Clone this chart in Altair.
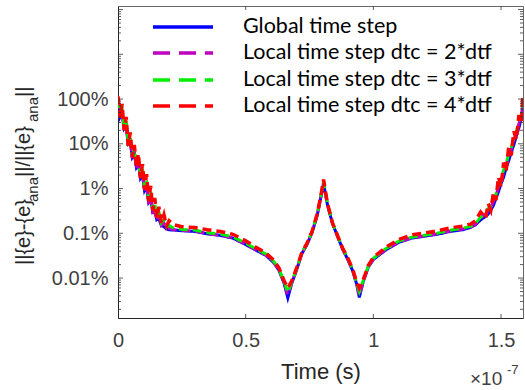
import altair as alt
import pandas as pd

# Time axis in units of 1e-7 s
times = [
    0.000, 0.008, 0.016, 0.024, 0.032, 0.040, 0.048, 0.056, 0.064, 0.072,
    0.080, 0.088, 0.096, 0.104, 0.112, 0.120, 0.128, 0.136, 0.144, 0.152,
    0.160, 0.170, 0.180, 0.190, 0.200,
    0.22, 0.25, 0.30, 0.35, 0.40, 0.45, 0.50, 0.54, 0.58, 0.61,
    0.63, 0.65, 0.665, 0.68, 0.70, 0.72, 0.74, 0.76, 0.78, 0.795,
    0.805, 0.82, 0.84, 0.86, 0.88, 0.90, 0.92, 0.935, 0.945, 0.96,
    0.98, 1.00, 1.05, 1.10, 1.15, 1.20, 1.25, 1.30, 1.35, 1.38, 1.40,
    1.42, 1.44, 1.45, 1.46, 1.47, 1.48, 1.49, 1.50, 1.51, 1.52,
    1.53, 1.54, 1.55, 1.56, 1.57, 1.58, 1.585,
]

# Relative error in percent
err_global = [
    90, 40, 50, 22, 26, 10, 11, 5, 6, 3.0, 3.6, 1.7, 2.0, 0.9, 1.1, 0.5, 0.6, 0.3, 0.32, 0.2,
    0.21, 0.15, 0.14, 0.125, 0.12,
    0.118, 0.114, 0.11, 0.097, 0.09, 0.078, 0.056, 0.042, 0.032, 0.022,
    0.015, 0.0078, 0.0036, 0.0075, 0.0155, 0.035, 0.056, 0.104, 0.25, 0.66,
    1.3, 0.44, 0.165, 0.085, 0.044, 0.026, 0.014, 0.0072, 0.0037, 0.0082,
    0.0175, 0.026, 0.043, 0.063, 0.078, 0.086, 0.095, 0.11, 0.12, 0.135, 0.155,
    0.2, 0.24, 0.27, 0.33, 0.42, 0.6, 0.85, 1.3, 1.8, 2.9, 4.2, 6.5, 9.5, 15, 23, 38, 62,
]
err_dtc2 = [
    95, 42, 55, 20, 30, 9, 13, 4.8, 7, 2.8, 4.2, 1.6, 2.4, 0.85, 1.3, 0.45, 0.75, 0.27, 0.42, 0.19,
    0.27, 0.15, 0.17, 0.13, 0.13,
    0.12, 0.116, 0.112, 0.098, 0.091, 0.079, 0.057, 0.0425, 0.0325, 0.0225,
    0.0155, 0.008, 0.0042, 0.0077, 0.0158, 0.0355, 0.057, 0.106, 0.255, 0.68,
    1.4, 0.45, 0.168, 0.086, 0.0445, 0.0265, 0.0142, 0.0073, 0.0040, 0.0083,
    0.0178, 0.0265, 0.044, 0.064, 0.079, 0.087, 0.097, 0.113, 0.124, 0.138, 0.158,
    0.22, 0.27, 0.32, 0.38, 0.5, 0.7, 1.05, 1.5, 2.2, 3.3, 5.2, 7.5, 12, 17, 28, 42, 75,
]
err_dtc3 = [
    100, 48, 60, 24, 32, 11, 14, 5.5, 7.5, 3.3, 4.6, 1.9, 2.7, 1.0, 1.5, 0.55, 0.85, 0.33, 0.47, 0.22,
    0.3, 0.17, 0.2, 0.14, 0.15,
    0.128, 0.122, 0.118, 0.103, 0.096, 0.083, 0.06, 0.045, 0.034, 0.0235,
    0.0162, 0.0083, 0.0048, 0.008, 0.0163, 0.0365, 0.059, 0.108, 0.262, 0.7,
    1.45, 0.46, 0.17, 0.088, 0.046, 0.0275, 0.0148, 0.0076, 0.005, 0.0087,
    0.0183, 0.0275, 0.046, 0.067, 0.082, 0.09, 0.1, 0.117, 0.13, 0.143, 0.165,
    0.23, 0.28, 0.36, 0.4, 0.58, 0.75, 1.2, 1.6, 2.6, 3.5, 6.0, 8.0, 14, 18, 33, 45, 88,
]
err_dtc4 = [
    115, 38, 78, 20, 40, 9, 18, 5.0, 9.5, 3.0, 6.0, 1.7, 3.5, 0.95, 2.1, 0.52, 1.15, 0.32, 0.62, 0.22,
    0.39, 0.17, 0.26, 0.145, 0.19,
    0.155, 0.14, 0.135, 0.12, 0.11, 0.095, 0.068, 0.049, 0.036, 0.025,
    0.017, 0.0088, 0.006, 0.0085, 0.017, 0.037, 0.06, 0.11, 0.27, 0.72,
    1.6, 0.47, 0.17, 0.088, 0.046, 0.028, 0.015, 0.008, 0.006, 0.009,
    0.019, 0.029, 0.049, 0.073, 0.092, 0.102, 0.113, 0.132, 0.145, 0.16, 0.19,
    0.3, 0.22, 0.46, 0.33, 0.8, 0.55, 1.8, 1.1, 3.8, 2.5, 8.5, 5.5, 19, 12.5, 44, 31, 105,
]

series_labels = [
    "Global time step",
    "Local time step dtc = 2*dtf",
    "Local time step dtc = 3*dtf",
    "Local time step dtc = 4*dtf",
]
series_values = [err_global, err_dtc2, err_dtc3, err_dtc4]
series_colors = ["#0000ff", "#bf00bf", "#00ee00", "#ff0000"]
series_dash = [[1, 0], [9, 5], [9, 5], [9, 5]]
series_width = [3, 3, 3, 3.5]

y_tick_values = [0.01, 0.1, 1, 10, 100]
x_tick_values = [0, 0.5, 1, 1.5]

W, H = 405, 312
X_DOMAIN = [0, 1.586]
Y_DOMAIN = [0.00128, 12000]
xscale = alt.Scale(domain=X_DOMAIN, nice=False, zero=False)
yscale = alt.Scale(type="log", domain=Y_DOMAIN, nice=False)

FONT = "Liberation Sans"
LEG_FONT = "Lato"

x_axis = alt.Axis(values=x_tick_values, format="~g", title="Time (s)",
                  ticks=False, grid=False, domainColor="#262626", labelFlush=False,
                  labelFont=FONT, labelFontSize=20, labelColor="#404040",
                  labelPadding=12, titleFont=FONT, titleFontSize=22,
                  titleFontWeight="normal", titleColor="#262626",
                  titlePadding=11)
y_axis = alt.Axis(values=y_tick_values, labelExpr="datum.value + '%'",
                  title="", ticks=False, grid=False, domainColor="#262626",
                  labelFlush=False,
                  labelFont=FONT, labelFontSize=20, labelColor="#404040",
                  labelPadding=10)

layers = []

# Curves, drawn in order so the red one sits on top
for i, (lab, vals) in enumerate(zip(series_labels, series_values)):
    df = pd.DataFrame({"t": times, "err": vals})
    layers.append(
        alt.Chart(df).mark_line(
            color=series_colors[i], strokeWidth=series_width[i],
            strokeDash=series_dash[i], clip=True,
        ).encode(
            x=alt.X("t:Q", scale=xscale, axis=x_axis),
            y=alt.Y("err:Q", scale=yscale, axis=y_axis),
        )
    )

# Inward tick marks on all four sides
y_major = [10.0 ** k for k in range(-2, 5)]
y_minor = [m * 10.0 ** k for k in range(-3, 5) for m in range(2, 10)
           if Y_DOMAIN[0] < m * 10.0 ** k < Y_DOMAIN[1]]
x_major = [0.5, 1.0, 1.5]

def ytick(vals, x0, x1):
    return alt.Chart(pd.DataFrame({"err": vals})).mark_rule(
        color="#333333", strokeWidth=0.8
    ).encode(y=alt.Y("err:Q", scale=yscale, axis=y_axis),
             x=alt.value(x0), x2=alt.value(x1))

def xtick(vals, y0, y1):
    return alt.Chart(pd.DataFrame({"t": vals})).mark_rule(
        color="#333333", strokeWidth=0.8
    ).encode(x=alt.X("t:Q", scale=xscale, axis=x_axis),
             y=alt.value(y0), y2=alt.value(y1))

layers += [
    ytick(y_major, 0, 5), ytick(y_minor, 0, 3),
    ytick(y_major, W, W - 5), ytick(y_minor, W, W - 3),
    xtick(x_major, H, H - 4), xtick(x_major, 0, 4),
]

# Legend
leg_y = [21, 47, 74, 100]
for i, lab in enumerate(series_labels):
    one = pd.DataFrame({"label": [lab]})
    layers.append(
        alt.Chart(one).mark_rule(
            color=series_colors[i], strokeWidth=3.5,
            strokeDash=[1, 0] if i == 0 else [17, 9],
        ).encode(x=alt.value(35), x2=alt.value(95), y=alt.value(leg_y[i]))
    )
    layers.append(
        alt.Chart(one).mark_text(
            align="left", baseline="middle", font=LEG_FONT, fontSize=21.5,
            color="#000000",
        ).encode(x=alt.value(125), y=alt.value(leg_y[i]), text="label:N")
    )

# Y-axis title with subscripts, rotated
title_parts = [
    ("||{e}-{e}", 20, -88.5, 259),
    ("ana", 15, -80, 196),
    ("||/||{e}", 20, -88.5, 171),
    ("ana", 15, -80, 116),
    ("||", 20, -88.5, 91),
]
for txt, size, px, py in title_parts:
    layers.append(
        alt.Chart(pd.DataFrame({"s": [txt]})).mark_text(
            align="left", baseline="alphabetic", angle=270, font=FONT,
            fontSize=size, color="#262626",
        ).encode(x=alt.value(px), y=alt.value(py), text="s:N")
    )

# Exponent of the time axis
layers.append(
    alt.Chart(pd.DataFrame({"s": ["×10"]})).mark_text(
        align="left", baseline="alphabetic", font=FONT, fontSize=19, color="#404040",
    ).encode(x=alt.value(352), y=alt.value(379), text="s:N")
)
layers.append(
    alt.Chart(pd.DataFrame({"s": ["-7"]})).mark_text(
        align="left", baseline="alphabetic", font=FONT, fontSize=13, color="#404040",
    ).encode(x=alt.value(389), y=alt.value(368), text="s:N")
)

chart = alt.layer(*layers).properties(
    width=W, height=H,
    padding={"left": 118, "top": 6, "right": 2, "bottom": 72},
    autosize=alt.AutoSizeParams(type="none"),
    background="white",
).configure_view(stroke="#666666", strokeWidth=1)

chart.save("out.html", embed_options={"renderer": "svg", "actions": False})
